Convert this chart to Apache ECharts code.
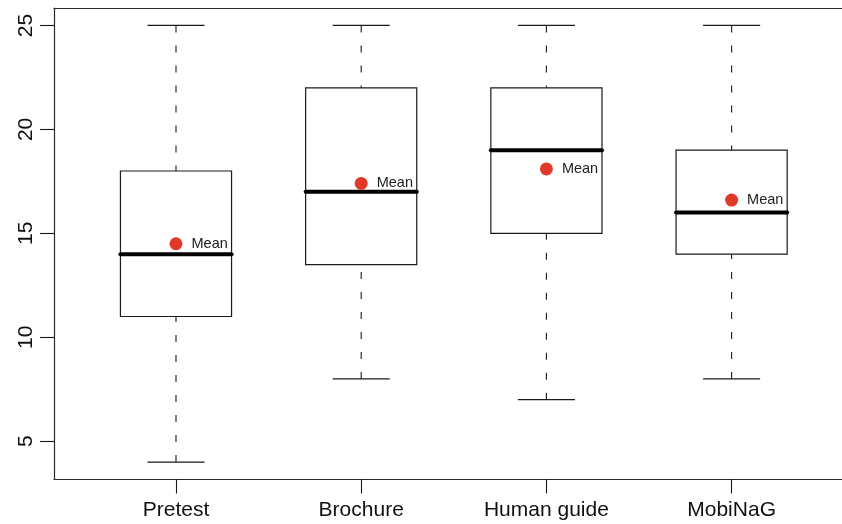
<!DOCTYPE html>
<html>
<head>
<meta charset="utf-8">
<script src="https://cdn.jsdelivr.net/npm/echarts@6/dist/echarts.min.js"></script>
<style>
  html, body { margin: 0; padding: 0; background: #fff; }
  #chart { width: 842px; height: 524px; }
</style>
</head>
<body>
<div id="chart"></div>
<script>
// Score distributions per condition (boxplot five-number summaries) plus group means
const categories = ['Pretest', 'Brochure', 'Human guide', 'MobiNaG'];
const whiskerLow = [4, 8, 7, 8];
const quartile1 = [11, 13.5, 15, 14];
const medians = [14, 17, 19, 16];
const quartile3 = [18, 22, 22, 19];
const whiskerHigh = [25, 25, 25, 25];
const means = [14.5, 17.4, 18.1, 16.6];
const yTicks = [5, 10, 15, 20, 25];
const xTicks = [1, 2, 3, 4];

const FONT = '"Liberation Sans", Arial, Helvetica, sans-serif';
const INK = '#1a1a1a';
const FRAME = '#2a2a2a';

// x range: the plot frame is cut at the canvas edge, so the right side stops short
const X_MIN = 0.3413;
const X_MAX = 4.596;

const boxData = categories.map((c, i) => [
  i + 1, whiskerLow[i], quartile1[i], medians[i], quartile3[i], whiskerHigh[i]
]);
const meanData = categories.map((c, i) => [i + 1, means[i]]);

function renderBox(params, api) {
  const x = api.value(0);
  const lo = api.coord([x, api.value(1)]);
  const q1 = api.coord([x, api.value(2)]);
  const md = api.coord([x, api.value(3)]);
  const q3 = api.coord([x, api.value(4)]);
  const hi = api.coord([x, api.value(5)]);
  const halfBox = api.size([0.3, 0])[0];
  const halfCap = api.size([0.154, 0])[0];
  const cx = md[0];
  const thin = { stroke: INK, lineWidth: 1.2, fill: null };
  const dashed = { stroke: INK, lineWidth: 1.1, lineDash: [7, 13] };
  return {
    type: 'group',
    children: [
      // whiskers (drawn from the caps toward the box)
      { type: 'line', shape: { x1: cx, y1: hi[1], x2: cx, y2: q3[1] }, style: dashed },
      { type: 'line', shape: { x1: cx, y1: lo[1], x2: cx, y2: q1[1] }, style: dashed },
      // caps
      { type: 'line', shape: { x1: cx - halfCap, y1: hi[1], x2: cx + halfCap, y2: hi[1] }, style: thin },
      { type: 'line', shape: { x1: cx - halfCap, y1: lo[1], x2: cx + halfCap, y2: lo[1] }, style: thin },
      // interquartile box
      { type: 'rect', shape: { x: cx - halfBox, y: q3[1], width: halfBox * 2, height: q1[1] - q3[1] }, style: thin },
      // median
      { type: 'line', shape: { x1: cx - halfBox, y1: md[1], x2: cx + halfBox, y2: md[1] },
        style: { stroke: '#000', lineWidth: 4, lineCap: 'round' } }
    ]
  };
}

const chart = echarts.init(document.getElementById('chart'), null, { renderer: 'canvas' });
chart.setOption({
  animation: false,
  backgroundColor: '#fff',
  grid: { left: 54, top: 8, bottom: 44.5, right: 0, show: false },
  xAxis: [
    {
      type: 'value',
      min: X_MIN, max: X_MAX,
      splitLine: { show: false },
      axisLine: { show: true, lineStyle: { color: FRAME, width: 1.2 } },
      axisTick: { show: true, length: 14, customValues: xTicks, lineStyle: { color: INK, width: 1.1 } },
      axisLabel: {
        customValues: xTicks,
        formatter: v => categories[Math.round(v) - 1] || '',
        fontFamily: FONT, fontSize: 21, color: '#111', margin: 20
      }
    },
    {
      // top edge of the plot frame
      type: 'value', position: 'top',
      min: X_MIN, max: X_MAX,
      splitLine: { show: false },
      axisLine: { show: true, lineStyle: { color: FRAME, width: 1.2 } },
      axisTick: { show: false },
      axisLabel: { show: false }
    }
  ],
  yAxis: {
    type: 'value',
    min: 3.16, max: 25.84,
    splitLine: { show: false },
    axisLine: { show: true, lineStyle: { color: FRAME, width: 1.2 } },
    axisTick: { show: true, length: 14, customValues: yTicks, lineStyle: { color: INK, width: 1.1 } },
    axisLabel: {
      customValues: yTicks,
      rotate: 90,
      fontFamily: FONT, fontSize: 21, color: '#111', margin: 17
    }
  },
  series: [
    {
      type: 'custom',
      renderItem: renderBox,
      data: boxData,
      encode: { x: 0, y: [1, 2, 3, 4, 5] },
      clip: false,
      z: 2
    },
    {
      type: 'scatter',
      data: meanData,
      symbol: 'circle',
      symbolSize: 13,
      itemStyle: { color: '#e0392b', opacity: 1 },
      label: {
        show: true, position: 'right', distance: 9,
        formatter: 'Mean',
        fontFamily: FONT, fontSize: 14.5, color: '#222'
      },
      z: 3
    }
  ]
});
</script>
</body>
</html>
